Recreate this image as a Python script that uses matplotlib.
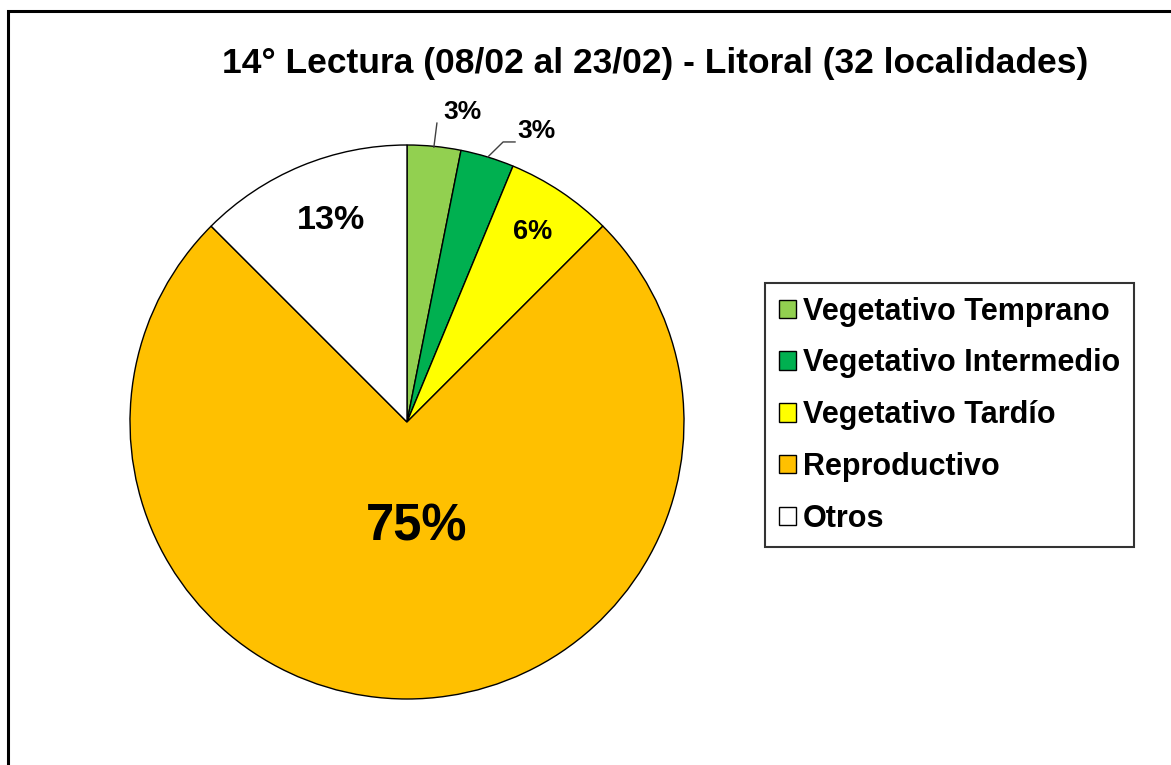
import matplotlib.pyplot as plt
from matplotlib.patches import Rectangle, Patch

plt.rcParams['font.family'] = ['Liberation Sans', 'DejaVu Sans']
plt.rcParams['font.weight'] = 'bold'

# Datos: 32 localidades
etapas = ['Vegetativo Temprano', 'Vegetativo Intermedio', 'Vegetativo Tardío',
          'Reproductivo', 'Otros']
localidades = [1, 1, 2, 24, 4]
colores = ['#92D050', '#00B050', '#FFFF00', '#FFC000', '#FFFFFF']
titulo = '14° Lectura (08/02 al 23/02) - Litoral (32 localidades)'

W, H = 1171, 765
fig = plt.figure(figsize=(W / 100, H / 100), dpi=100)

# marco del gráfico
fig.patches.append(Rectangle((8 / W, -0.1), 1.2, 1 - 11 / H + 0.1, transform=fig.transFigure,
                             fill=False, edgecolor='black', linewidth=2.2))

cx, cy, r = 407, 422, 277
ax = fig.add_axes([(cx - r) / W, (H - cy - r) / H, 2 * r / W, 2 * r / H])
ax.pie(localidades, colors=colores, startangle=90, counterclock=False,
       wedgeprops=dict(edgecolor='black', linewidth=1.0))
ax.set_xlim(-1, 1)
ax.set_ylim(-1, 1)
ax.set_aspect('equal')
ax.axis('off')

total = sum(localidades)
pct = [f'{int(100 * v / total + 0.5)}%' for v in localidades]

# etiquetas
ax.text(0.202, 1.119, pct[0], ha='center', va='center', fontsize=19)
ax.text(0.469, 1.051, pct[1], ha='center', va='center', fontsize=19)
ax.text(0.455, 0.686, pct[2], ha='center', va='center', fontsize=19.5)
ax.text(0.036, -0.379, pct[3], ha='center', va='center', fontsize=36.5)
ax.text(-0.274, 0.729, pct[4], ha='center', va='center', fontsize=24.5)

# líneas guía
ax.plot([0.108, 0.097], [1.079, 0.992], color='#404040', linewidth=1, clip_on=False)
ax.plot([0.390, 0.347, 0.292], [1.011, 1.011, 0.957], color='#404040', linewidth=1,
        clip_on=False)

fig.text(655 / W, 1 - 63 / H, titulo, ha='center', va='center', fontsize=25.5)

handles = [Patch(facecolor=c, edgecolor='black', linewidth=1) for c in colores]
leg = fig.legend(handles, etapas, loc='upper left', bbox_to_anchor=(765 / W, 1 - 283 / H),
                 bbox_transform=fig.transFigure, borderaxespad=0, fontsize=22,
                 frameon=True, fancybox=False, handlelength=0.55, handleheight=0.55,
                 handletextpad=0.25, labelspacing=0.71, borderpad=0.45)
leg.get_frame().set_edgecolor('black')
leg.get_frame().set_linewidth(1.5)

fig.savefig('out.png', dpi=100)
